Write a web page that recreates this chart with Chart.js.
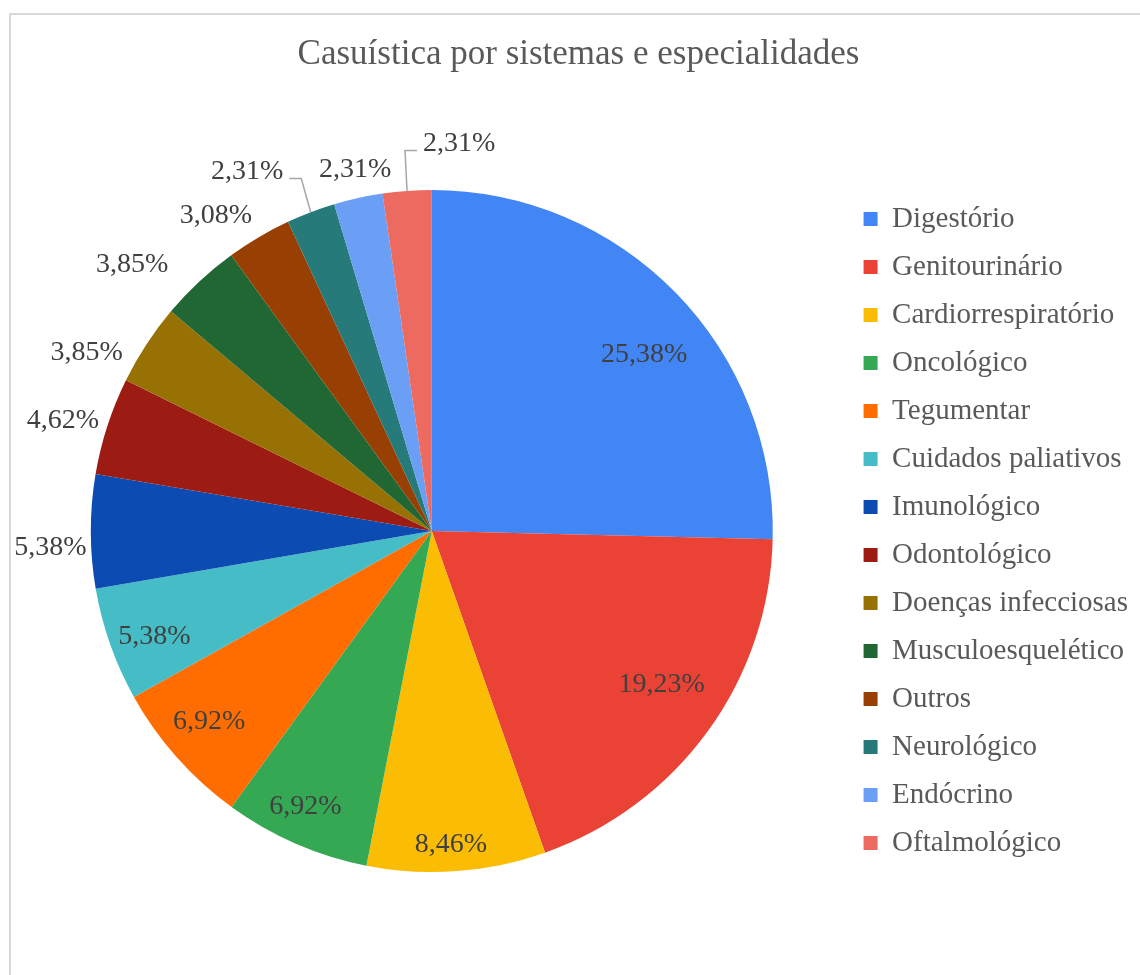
<!DOCTYPE html>
<html lang="pt">
<head>
<meta charset="utf-8">
<title>Casuística por sistemas e especialidades</title>
<script src="https://cdn.jsdelivr.net/npm/chart.js@4.4.1/dist/chart.umd.min.js"></script>
<style>
  html, body { margin: 0; padding: 0; background: #fff; overflow: hidden; }
  #chart { position: absolute; left: 0; top: 0; }
  #moldura {
    position: absolute; left: 9px; top: 13px; width: 1200px; height: 1000px;
    border: 2px solid #d9d9d9; box-sizing: border-box; pointer-events: none;
  }
</style>
</head>
<body>
<canvas id="chart" width="1150" height="975"></canvas>
<div id="moldura"></div>
<script>
// -------------------------------------------------------
// Dados
// -------------------------------------------------------
const categorias = [
    'Digestório', 'Genitourinário', 'Cardiorrespiratório', 'Oncológico',
    'Tegumentar', 'Cuidados paliativos', 'Imunológico', 'Odontológico',
    'Doenças infecciosas', 'Musculoesquelético', 'Outros', 'Neurológico',
    'Endócrino', 'Oftalmológico'
];
const percentuais = [25.38, 19.23, 8.46, 6.92, 6.92, 5.38, 5.38, 4.62, 3.85, 3.85, 3.08, 2.31, 2.31, 2.31];
const cores = [
    '#4285f4', '#ea4335', '#fbbc04', '#34a853', '#ff6d01', '#46bdc6', '#0b4bb2',
    '#9c1c14', '#977103', '#206734', '#984004', '#267a7a', '#6a9ff5', '#ed6a61'
];

// posição dos rótulos (dentro da fatia ou fora, com ajuste de ângulo em graus)
const posRotulos = [
    { tipo: 'dentro', r: 0.81, desvio: 4.6 },
    { tipo: 'dentro', r: 0.81, desvio: -2.3 },
    { tipo: 'dentro', r: 0.92, desvio: 0.7 },
    { tipo: 'dentro', r: 0.89, desvio: 1.1 },
    { tipo: 'dentro', r: 0.86, desvio: 1.0 },
    { tipo: 'dentro', r: 0.87, desvio: -1.4 },
    { tipo: 'fora', folga: 4, desvio: -2.5 },
    { tipo: 'fora', folga: 6, desvio: -1.2 },
    { tipo: 'fora', folga: 10, desvio: -5.8 },
    { tipo: 'fora', folga: 25, desvio: -5.4 },
    { tipo: 'fora', folga: 11, desvio: -3.9 },
    { tipo: 'fora', folga: 36, desvio: -6.4, guia: true },
    { tipo: 'fora', folga: 9, desvio: 0.5 },
    { tipo: 'fora', folga: 33, desvio: 8.2, guia: true }
];

const FONTE = '"Liberation Serif", "Times New Roman", serif';

function formatar(v) {
    return v.toFixed(2).replace('.', ',') + '%';
}

// -------------------------------------------------------
// Rótulos de dados (percentuais) com linhas guia
// -------------------------------------------------------
const rotulosPlugin = {
    id: 'rotulos',
    afterDatasetsDraw(chart) {
        const ctx = chart.ctx;
        const arcos = chart.getDatasetMeta(0).data;
        ctx.save();
        ctx.font = '28px ' + FONTE;
        ctx.textAlign = 'center';
        ctx.textBaseline = 'middle';

        arcos.forEach((arco, i) => {
            const p = arco.getProps(['x', 'y', 'startAngle', 'endAngle', 'outerRadius'], true);
            const cfg = posRotulos[i];
            const meio = (p.startAngle + p.endAngle) / 2;
            const ang = meio + cfg.desvio * Math.PI / 180;
            const texto = formatar(percentuais[i]);
            const w = ctx.measureText(texto).width;
            const c = Math.cos(ang), s = Math.sin(ang);

            let dist;
            if (cfg.tipo === 'dentro') {
                dist = p.outerRadius * cfg.r;
            } else {
                dist = p.outerRadius + cfg.folga + Math.abs(c) * w / 2 + Math.abs(s) * 12;
            }
            const lx = p.x + c * dist;
            const ly = p.y + s * dist;

            if (cfg.guia) {
                const ax = p.x + Math.cos(meio) * p.outerRadius;
                const ay = p.y + Math.sin(meio) * p.outerRadius;
                const lado = lx < ax ? 1 : -1;
                const px = lx + lado * (w / 2 + 6);
                const py = ly + 7;
                ctx.beginPath();
                ctx.moveTo(px, py);
                ctx.lineTo(px + lado * 12, py);
                ctx.lineTo(ax, ay);
                ctx.strokeStyle = '#a6a6a6';
                ctx.lineWidth = 1.5;
                ctx.stroke();
            }

            ctx.fillStyle = '#404040';
            ctx.fillText(texto, lx, ly);
        });
        ctx.restore();
    }
};

// -------------------------------------------------------
// Gráfico
// -------------------------------------------------------
const ctxPizza = document.getElementById('chart').getContext('2d');
new Chart(ctxPizza, {
    type: 'pie',
    data: {
        labels: categorias,
        datasets: [{
            data: percentuais,
            backgroundColor: cores,
            borderColor: cores,
            borderWidth: 0,
            hoverOffset: 0
        }]
    },
    options: {
        responsive: false,
        animation: false,
        layout: {
            padding: { left: 19, right: 12, top: 0, bottom: 0 }
        },
        plugins: {
            title: {
                display: true,
                text: 'Casuística por sistemas e especialidades',
                color: '#595959',
                font: { family: FONTE, size: 35, weight: 'normal' },
                padding: { top: 34, bottom: 114 }
            },
            // espaço vazio abaixo da pizza
            subtitle: {
                display: true,
                position: 'bottom',
                text: '',
                font: { size: 10 },
                padding: { top: 0, bottom: 91 }
            },
            legend: {
                display: true,
                position: 'right',
                align: 'center',
                fullSize: true,
                title: {
                    display: true,
                    text: '',
                    font: { size: 10 },
                    padding: { top: 0, bottom: 75 }
                },
                labels: {
                    color: '#595959',
                    font: { family: FONTE, size: 29 },
                    boxWidth: 14,
                    boxHeight: 14,
                    padding: 19
                }
            },
            tooltip: { enabled: false }
        }
    },
    plugins: [rotulosPlugin]
});
</script>
</body>
</html>
